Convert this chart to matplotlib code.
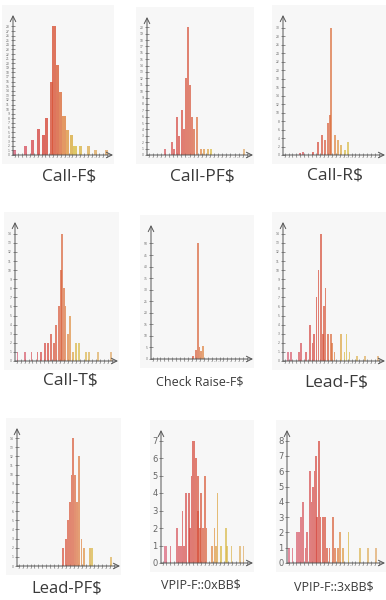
import numpy as np
import matplotlib
matplotlib.use('Agg')
import matplotlib.pyplot as plt
from matplotlib.colors import LinearSegmentedColormap
from matplotlib.patches import Rectangle

# panel titles
titles = ["Call-F$", "Call-PF$", "Call-R$",
          "Call-T$", "Check Raise-F$", "Lead-F$",
          "Lead-PF$", "VPIP-F::0xBB$", "VPIP-F::3xBB$"]

# bar positions / counts, one pair per panel
callf_x = [0, 2.9, 4.6, 6.2, 7.5, 8.3, 9.6, 10.2, 11.1, 11.9, 12.75, 13.7, 14.7, 15.7, 17.1, 19.2, 21, 23.75]
callf_h = [1, 2, 3.3, 5.6, 4.4, 8, 16, 28, 19.6, 13.8, 8.4, 5.5, 4.4, 2, 2, 2, 1, 1]

callpf_x = [4, 5.7, 6.3, 6.9, 7.5, 8.2, 8.75, 9.2, 9.6, 10, 10.5, 11.1, 11.9, 12.75, 13.6, 14.4, 15.25, 23.2]
callpf_h = [1, 2, 1, 6, 3, 7, 4, 12, 20, 11, 6, 4, 6, 1, 1, 1, 1, 1]

callr_x = [4, 4.8, 7.3, 8.6, 9.4, 10.25, 11.1, 11.5, 11.9, 12.75, 13.6, 14.4, 15.25, 16.1]
callr_h = [0.4, 0.6, 0.8, 3, 4.7, 3.5, 7.5, 9.5, 30, 4.7, 3.5, 2.4, 1.2, 3.1]

callt_x = [0.25, 2.1, 3.75, 5.25, 6.1, 7.1, 7.9, 8.75, 9.4, 10, 10.6, 11.1, 11.5, 11.9, 12.3,
           12.9, 13.4, 14.2, 15, 15.7, 17.5, 18.3, 20.4, 23.75]
callt_h = [1, 1, 1, 1, 1, 2, 2, 3, 2, 4, 6, 10, 14, 8, 6, 3, 5, 1, 2, 2, 1, 1, 1, 1]

checkr_x = [10.25, 11.1, 11.5, 11.9, 12.3, 12.75]
checkr_h = [1.1, 4, 50, 5, 3.5, 5.7]

leadf_x = [0.8, 1.7, 3.75, 4.2, 5.4, 6.5, 7.1, 7.5, 8.1, 8.6, 9.2, 9.7, 10, 10.4, 11, 11.7, 12.1,
           12.7, 14.3, 15.2, 15.7, 16.5, 18.3, 20.4, 23.75]
leadf_h = [1, 1, 1, 2, 1, 4, 2, 3, 7, 10, 14, 3, 6, 8, 3, 3, 2, 1, 3, 1, 3, 1, 0.5, 0.5, 0.5]

leadpf_x = [11.1, 11.9, 12.5, 12.9, 13.3, 13.6, 14.2, 14.6, 15.2, 15.8, 16.5, 17.9, 18.5, 23.3]
leadpf_h = [2, 3, 5, 7, 10, 14, 10, 7, 12, 3, 2, 2, 2, 1]

vpip0_x = [0.6, 1, 2.1, 3.75, 4.3, 4.75, 5.2, 5.6, 6, 6.8, 7.1, 7.5, 7.9, 8.3, 8.75, 9.2, 9.3,
           9.75, 10, 10.6, 11, 11.4, 12.9, 13.5, 13.9, 14.3, 15.2, 16.4, 16.8, 17.9, 20.2, 21]
vpip0_h = [1, 1, 1, 2, 1, 1, 3, 1, 4, 4, 2, 5, 7, 7, 6, 3, 5, 2, 4, 2, 5, 2, 1, 2, 1, 4, 1, 2, 1, 1, 1, 1]

vpip3_x = [0.2, 1, 2.1, 2.7, 3.25, 3.75, 4.3, 4.75, 5.4, 5.8, 6.25, 6.6, 7, 7.25, 7.75, 8.1,
           8.75, 9.3, 9.75, 10.4, 11.25, 11.8, 12.5, 13.1, 13.75, 15.2, 18.1, 20.2, 22.25]
vpip3_h = [1, 1, 2, 2, 3, 4, 1, 2, 6, 4, 5, 6, 7, 3, 8, 3, 3, 3, 1, 1, 3, 1, 1, 2, 1, 2, 1, 1, 1]

data = [(callf_x, callf_h), (callpf_x, callpf_h), (callr_x, callr_h),
        (callt_x, callt_h), (checkr_x, checkr_h), (leadf_x, leadf_h),
        (leadpf_x, leadpf_h), (vpip0_x, vpip0_h), (vpip3_x, vpip3_h)]

# layout in pixels: origin x, origin y, right end, top end, y max, y tick step, bar width
W, H = 386, 600
boxes = [
    (13, 155, 113, 15, 30.5, 1, 0.9),
    (147, 155, 253, 17, 21.6, 1, 0.5),
    (283, 155, 385, 15, 33, 2, 0.5),
    (15, 361, 118, 222, 15.3, 1, 0.45),
    (151, 359, 253, 225, 58, 5, 0.45),
    (283, 361, 385, 222, 15.3, 1, 0.45),
    (17, 566, 120, 428, 15.1, 1, 0.45),
    (161, 563, 253, 430, 7.6, 1, 0.45),
    (287, 563, 385, 430, 8.7, 1, 0.45),
]
xmaxes = [24.5, 24.5, 24.5, 24.5, 24.5, 24.5, 24.5, 22.5, 23.5]
# colour stretch per panel
cnorm = [22, 22, 22, 22, 22, 22, 27, 22, 22]
label_pos = [(69, 176), (202, 177), (335, 175), (70, 380), (200, 382), (336, 382),
             (67, 588), (201, 585), (334, 587)]
label_size = [12.5, 12.5, 12.5, 12.5, 9, 12.5, 12, 9, 9]

cmap = LinearSegmentedColormap.from_list(
    "heat", [(0, "#d8607a"), (0.35, "#d6453a"), (0.5, "#d85a38"),
             (0.6, "#e08a40"), (0.7, "#d8bc40"), (1, "#e0a868")])

fig = plt.figure(figsize=(W / 100, H / 100), dpi=100)

for i, (ox, oy, rx, ty, ymax, ystep, bw) in enumerate(boxes):
    # faint background box
    fig.patches.append(Rectangle(((ox - 11) / W, 1 - (oy + 9) / H), (rx - ox + 12) / W,
                                 (oy - ty + 19) / H, transform=fig.transFigure,
                                 facecolor="#f7f7f7", edgecolor="none", zorder=-5))
    ax = fig.add_axes([ox / W, 1 - oy / H, (rx - ox) / W, (oy - ty) / H])
    ax.patch.set_alpha(0)
    xs, hs = data[i]
    xs = np.array(xs)
    cols = cmap(np.clip(xs / cnorm[i], 0, 1))
    ax.bar(xs, hs, width=bw, color=cols, alpha=0.8 if i == 0 else 0.7,
           linewidth=0, zorder=2)
    ax.set_xlim(-0.4, xmaxes[i] + 1)
    ax.set_ylim(0, ymax)
    for s in ax.spines.values():
        s.set_visible(False)
    # axes with arrow heads
    ax.annotate("", xy=(1, 0), xytext=(0, 0), xycoords="axes fraction",
                arrowprops=dict(arrowstyle="->", color="#555555", lw=0.7, shrinkA=0, shrinkB=0))
    ax.annotate("", xy=(0, 1), xytext=(0, 0), xycoords="axes fraction",
                arrowprops=dict(arrowstyle="->", color="#555555", lw=0.7, shrinkA=0, shrinkB=0))
    yt = np.arange(0, ymax * 0.93, ystep)
    ax.set_yticks(yt)
    ax.set_xticks(np.arange(0, xmaxes[i], 1))
    big = i >= 7
    ax.set_yticklabels([str(int(v)) for v in yt], fontsize=6 if big else 2.2, color="#666666")
    ax.set_xticklabels([str(int(v)) for v in np.arange(0, xmaxes[i], 1)],
                       fontsize=1.6, color="#aaaaaa")
    ax.tick_params(axis="y", direction="inout", length=3, width=0.5, color="#666666", pad=1)
    ax.tick_params(axis="x", direction="inout", length=2.5, width=0.5, color="#777777", pad=0.5)
    lx, ly = label_pos[i]
    fig.text(lx / W, 1 - ly / H, titles[i], ha="center", va="center",
             fontsize=label_size[i], color="#3a3a3a", family=["Open Sans", "DejaVu Sans"])

fig.savefig("out.png", dpi=100)
